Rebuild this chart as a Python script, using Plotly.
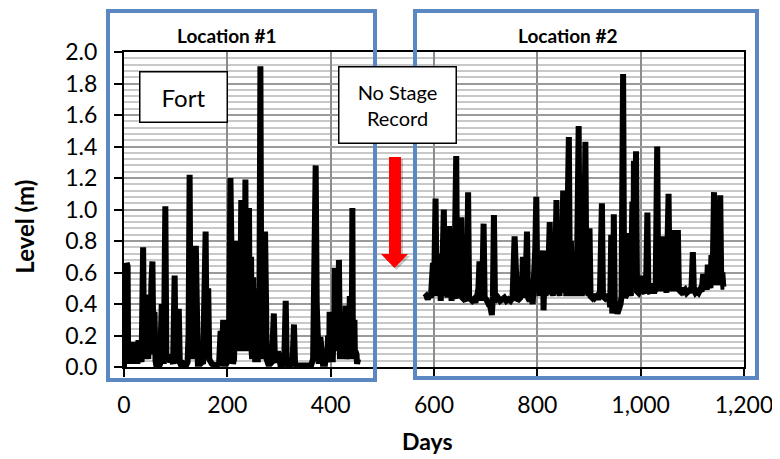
import plotly.graph_objects as go

# ---- data ----
days1 = [0, 1, 2, 3, 5, 7, 8, 10, 11, 13, 14, 16, 18, 20, 22, 24, 26, 28, 30, 32, 34, 37, 39, 41, 43, 45, 47, 49, 51, 53,
         55, 57, 59, 61, 63, 67, 70, 73, 75, 77, 80, 82, 85, 87, 89, 92, 95, 98, 100, 102, 104, 106, 108, 112, 116, 120,
         123, 125, 127, 129, 131, 133, 136, 139, 141, 143, 148, 151, 153, 158, 160, 163, 165, 167, 170, 176, 180, 184,
         187, 189, 192, 194, 198, 203, 206, 208, 211,
         213, 214, 215, 216, 217, 218, 219, 220, 221, 222, 223, 224, 225, 226, 227, 228, 229, 230, 231, 232, 233, 234,
         235, 236, 237, 238, 239, 240, 241, 242, 243, 244, 245, 246, 247, 248, 249, 250, 251, 252, 254, 255, 256, 258,
         259, 261, 262, 264, 266, 268, 270, 273, 275, 276, 279, 283, 286,
         290, 292, 295, 298, 300, 303, 310, 313, 315, 318, 322, 326, 329, 331, 335, 345, 355, 362, 366, 369, 371, 373,
         375, 377, 380, 382, 385,
         389, 391, 393, 395, 397, 398, 400, 401, 402, 403, 404, 406, 407, 408, 409, 410, 411, 412, 413, 414, 415, 416,
         417, 418, 419, 420, 421, 422, 423, 424, 425, 426, 427, 429, 430, 431, 432, 433, 434, 435, 436, 437, 438, 439,
         440, 441, 442, 443, 444, 446, 447, 448, 450, 451, 453]
level1 = [0.00, 0.58, 0.10, 0.45, 0.66, 0.64, 0.05, 0.15, 0.02, 0.16, 0.03, 0.15, 0.02, 0.16, 0.04, 0.16, 0.02, 0.17, 0.05,
          0.14, 0.03, 0.76, 0.05, 0.45, 0.10, 0.46, 0.05, 0.30, 0.08, 0.53, 0.67, 0.10, 0.35, 0.04, 0.00, 0.00, 0.02, 0.40,
          0.03, 0.02, 1.02, 0.06, 0.04, 0.08, 0.03, 0.05, 0.02, 0.58, 0.05, 0.03, 0.04, 0.37, 0.03, 0.00, 0.02, 0.01, 0.03,
          0.21, 1.22, 0.10, 0.30, 0.05, 0.20, 0.77, 0.05, 0.02, 0.02, 0.03, 0.02, 0.86, 0.05, 0.50, 0.05, 0.03, 0.02, 0.01,
          0.02, 0.02, 0.23, 0.03, 0.30, 0.02, 0.02, 0.05, 1.20, 0.10, 0.02,
          0.05, 0.60, 0.10, 0.78, 0.20, 0.75, 0.80, 0.15, 0.70, 0.10, 0.60, 0.30, 0.15, 0.70, 1.06, 0.20, 0.30, 0.75,
          0.80, 0.10, 0.20, 0.70, 1.19, 0.20, 0.40, 0.70, 0.75, 0.10, 0.60, 1.01, 0.20, 0.20, 0.60, 0.70, 0.10, 0.05,
          0.40, 0.57, 0.05, 0.40, 0.03, 0.45, 0.05, 0.35, 0.03, 0.50, 0.30, 1.91, 0.10, 0.40, 0.05, 0.86, 0.40, 0.05,
          0.02, 0.02, 0.03,
          0.34, 0.05, 0.03, 0.10, 0.02, 0.01, 0.02, 0.42, 0.03, 0.01, 0.02, 0.01, 0.27, 0.02, 0.01, 0.01, 0.01, 0.01,
          0.05, 0.70, 1.28, 0.40, 0.05, 0.02, 0.19, 0.05, 0.02,
          0.02, 0.10, 0.03, 0.20, 0.05, 0.35, 0.05, 0.20, 0.05, 0.25, 0.03, 0.30, 0.10, 0.63, 0.10, 0.40, 0.10, 0.45,
          0.20, 0.60, 0.20, 0.68, 0.10, 0.05, 0.30, 0.10, 0.30, 0.05, 0.25, 0.20, 0.05, 0.30, 0.10, 0.39, 0.05, 0.30,
          0.10, 0.30, 0.05, 0.25, 0.05, 0.45, 0.10, 0.05, 0.40, 0.30, 1.01, 0.10, 0.20, 0.30, 0.05, 0.10, 0.08, 0.02,
          0.05]

days2 = [582, 585, 588, 591, 594, 596, 598, 600, 603, 605, 607, 609, 611, 613, 616, 619, 621, 624, 626, 629, 631, 634,
         637, 639, 641, 643, 645, 647, 650, 653, 655, 658, 661, 664, 666, 668, 671, 674, 677, 680, 683, 686, 688, 690,
         693, 696, 698, 701, 704, 707, 710, 712, 714, 716, 718, 721, 724, 728, 732, 736, 740, 744, 748, 752, 756, 758,
         761, 764, 767, 770, 772, 774, 777, 780, 782, 785, 788, 791, 794, 796, 798, 800, 802, 804, 806, 808, 811, 812,
         814, 816, 818, 820, 822, 824, 826, 828, 830, 832, 834, 837, 839, 841, 843, 845, 847, 850, 852, 854, 856, 858,
         861, 863, 865, 867, 869, 871, 873, 875, 877, 880, 882, 884, 886, 888, 890, 893, 895, 897, 899, 901, 903, 906,
         909, 912, 915, 918, 921, 925, 927, 930, 933, 936, 939, 941, 943, 945, 947, 948, 950, 952, 955, 958, 961, 963,
         966, 968, 970, 973, 976, 979, 981, 984, 986, 987, 989, 991, 993, 996, 999, 1001, 1003, 1005, 1008, 1011, 1013,
         1015, 1018, 1021, 1023, 1026, 1029, 1032, 1034, 1036, 1038, 1041, 1043, 1045, 1048, 1050, 1052, 1054, 1056,
         1058, 1060, 1063, 1065, 1067, 1069, 1072, 1074, 1077, 1080, 1083, 1086, 1089, 1092, 1095, 1098, 1101, 1103,
         1106, 1109, 1112, 1115, 1118, 1121, 1123, 1126, 1128, 1130, 1132, 1134, 1135, 1137, 1139, 1142, 1144, 1146,
         1148, 1150, 1152, 1154, 1156, 1158, 1160, 1162]
level2 = [0.44, 0.45, 0.43, 0.46, 0.44, 0.60, 0.66, 0.45, 1.07, 0.50, 0.70, 0.45, 0.72, 0.42, 0.60, 1.00, 0.45, 0.65,
          0.44, 0.895, 0.45, 0.42, 0.55, 0.43, 0.90, 1.34, 0.45, 0.44, 0.60, 0.95, 0.44, 0.43, 0.42, 0.50, 1.11, 0.44,
          0.43, 0.42, 0.43, 0.41, 0.44, 0.50, 0.67, 0.44, 0.42, 0.91, 0.44, 0.43, 0.41, 0.42, 0.38, 0.33, 0.45, 0.965,
          0.44, 0.43, 0.44, 0.42, 0.43, 0.44, 0.42, 0.43, 0.42, 0.44, 0.83, 0.44, 0.42, 0.43, 0.44, 0.48, 0.70, 0.44,
          0.50, 0.86, 0.44, 0.42, 0.45, 0.40, 0.55, 0.75, 1.08, 0.50, 0.70, 0.45, 0.72, 0.45, 0.74, 0.36, 0.60, 0.45,
          0.72, 0.46, 0.80, 0.92, 0.47, 0.70, 0.45, 0.75, 0.46, 1.06, 0.50, 0.74, 0.45, 0.80, 0.47, 1.12, 0.50, 1.00,
          0.45, 0.75, 1.46, 0.50, 0.80, 0.45, 0.70, 0.46, 0.74, 0.45, 0.70, 1.53, 0.50, 0.75, 0.45, 0.70, 0.46, 1.43,
          0.50, 0.75, 0.45, 0.88, 0.45, 0.44, 0.46, 0.44, 0.45, 0.43, 0.45, 1.04, 0.45, 0.44, 0.46, 0.44, 0.45, 0.38,
          0.84, 0.34, 0.40, 0.97, 0.35, 0.38, 0.34, 0.36, 0.40, 0.45, 1.86, 0.50, 0.44, 0.46, 0.47, 0.85, 0.45, 1.05,
          0.60, 1.31, 0.55, 1.37, 0.48, 0.47, 0.49, 0.47, 0.58, 0.48, 0.47, 0.60, 0.98, 0.48, 0.47, 0.53, 0.48, 0.47,
          0.50, 1.40, 0.50, 0.60, 0.48, 0.65, 0.83, 0.48, 0.65, 0.47, 0.70, 1.10, 0.50, 0.65, 0.48, 0.87, 0.50, 0.65,
          0.48, 0.87, 0.49, 0.48, 0.50, 0.48, 0.49, 0.47, 0.48, 0.49, 0.47, 0.73, 0.49, 0.47, 0.48, 0.47, 0.49, 0.48,
          0.59, 0.50, 0.55, 0.49, 0.65, 0.50, 0.62, 0.50, 0.71, 0.52, 1.11, 0.55, 0.70, 0.52, 0.80, 0.55, 1.09, 0.52,
          0.60, 0.51, 0.51]

x_range = [0, 1200]
y_range = [0, 2.0]
x_title = "Days"
y_title = "Level (m)"
panel_titles = ["Location #1", "Location #2"]
site_label = "Fort"
gap_label = "No Stage<br>Record"

FONT = "Lato, 'Open Sans', sans-serif"
OFF = 8  # the page body adds an 8px margin around the figure
W, H = 780 - OFF, 459 - OFF
# plot area in window pixels: left 124, right 744, top 52, bottom 367
ML, MT = 124 - OFF, 52 - OFF
PW, PH = 620, 315
MR = W - ML - PW
MB = H - MT - PH


def px(x):
    """window pixel x -> paper"""
    return (x - OFF - ML) / PW


def py(y):
    """window pixel y -> paper"""
    return (MT + PH - (y - OFF)) / PH


fig = go.Figure()
for d, v in [(days1, level1), (days2, level2)]:
    fig.add_trace(go.Scatter(x=d, y=v, mode="lines",
                             line=dict(color="black", width=6),
                             hoverinfo="skip", showlegend=False))

blue = "#5B87C2"
shapes = [
    dict(type="rect", xref="paper", yref="paper", x0=px(108), x1=px(375), y0=py(380), y1=py(11),
         line=dict(color=blue, width=4), layer="above"),
    dict(type="rect", xref="paper", yref="paper", x0=px(415), x1=px(757), y0=py(378), y1=py(11),
         line=dict(color=blue, width=4), layer="above"),
]


def arrow_path(dx, dy):
    pts = [(389, 157), (401, 157), (401, 254), (408, 254), (394.5, 268), (381, 254), (389, 254)]
    return "M " + " L ".join(f"{px(a + dx):.5f},{py(b + dy):.5f}" for a, b in pts) + " Z"


shapes.append(dict(type="path", xref="paper", yref="paper", path=arrow_path(2, 2),
                   fillcolor="rgba(0,0,0,0.22)", line=dict(width=0), layer="above"))
shapes.append(dict(type="path", xref="paper", yref="paper", path=arrow_path(0, 0),
                   fillcolor="#FF0000", line=dict(width=0), layer="above"))

annotations = [
    dict(text=f"<b>{panel_titles[0]}</b>", x=px(226.7), y=py(35.7), xref="paper", yref="paper",
         showarrow=False, font=dict(family=FONT, size=19, color="black"), xanchor="center", yanchor="middle"),
    dict(text=f"<b>{panel_titles[1]}</b>", x=px(567), y=py(35.7), xref="paper", yref="paper",
         showarrow=False, font=dict(family=FONT, size=19, color="black"), xanchor="center", yanchor="middle"),
    dict(text=site_label, x=px(183.5), y=py(97), xref="paper", yref="paper", showarrow=False,
         font=dict(family=FONT, size=24, color="black"), xanchor="center", yanchor="middle",
         bgcolor="white", bordercolor="black", borderwidth=1.5, borderpad=0, width=86, height=49),
    dict(text=gap_label, x=px(397.8), y=py(105.5), xref="paper", yref="paper", showarrow=False,
         font=dict(family=FONT, size=20, color="black"), xanchor="center", yanchor="middle",
         bgcolor="white", bordercolor="black", borderwidth=1.5, borderpad=0, width=116, height=75),
    dict(text=f"<b>{y_title}</b>", x=px(25), y=py(226.7), xref="paper", yref="paper", showarrow=False,
         textangle=-90, font=dict(family=FONT, size=24, color="black"), xanchor="center", yanchor="middle"),
    dict(text=f"<b>{x_title}</b>", x=px(427.5), y=py(441), xref="paper", yref="paper", showarrow=False,
         font=dict(family=FONT, size=23, color="black"), xanchor="center", yanchor="middle"),
]

fig.update_layout(
    width=W, height=H,
    margin=dict(l=ML, r=MR, t=MT, b=MB, pad=0, autoexpand=False),
    paper_bgcolor="white", plot_bgcolor="white",
    font=dict(family=FONT, color="black"),
    shapes=shapes, annotations=annotations,
    xaxis=dict(range=x_range, tick0=0, dtick=200, tickformat=",", showgrid=True,
               gridcolor="#8c8c8c", gridwidth=1.5, zeroline=False, showline=True, linecolor="black",
               linewidth=2, mirror=True, ticks="outside", ticklen=8, tickwidth=1.5, tickcolor="black",
               tickfont=dict(family=FONT, size=23, color="black"), ticklabelstandoff=8, automargin=False),
    yaxis=dict(range=y_range, tick0=0, dtick=0.2, tickformat=".1f", showgrid=True,
               gridcolor="#9a9a9a", gridwidth=1.5, zeroline=False, showline=True, linecolor="black",
               linewidth=2, mirror=True, ticks="outside", ticklen=8, tickwidth=1.5, tickcolor="black",
               tickfont=dict(family=FONT, size=23, color="black"), ticklabelstandoff=12, automargin=False,
               minor=dict(dtick=0.04, showgrid=True, gridcolor="#c8c8c8", gridwidth=2)),
)

fig.write_html("out.html")
